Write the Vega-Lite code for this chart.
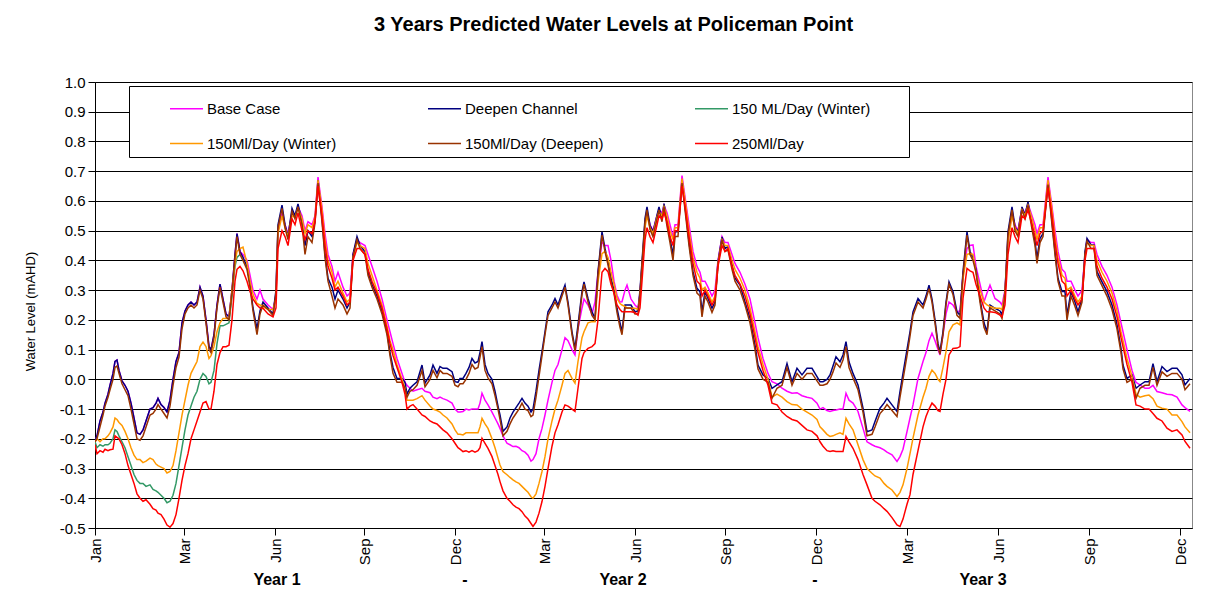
{
"$schema":"https://vega.github.io/schema/vega-lite/v6.json",
"width":1097,"height":446,
"autosize":{"type":"none"},
"padding":{"left":95,"top":82,"right":13,"bottom":70},
"background":"white",
"title":{"text":"3 Years Predicted Water Levels at Policeman Point","fontSize":20,"fontWeight":"bold","font":"Liberation Sans","anchor":"middle","dx":-30,"offset":40,"color":"black"},
"config":{"view":{"stroke":"#888888","strokeWidth":1},"font":"Liberation Sans"},
"datasets":{"w":[
{"d":0,"a":-0.21,"b":-0.21,"c":-0.21,"e":-0.21,"f":-0.21,"g":-0.22},
{"d":2,"a":-0.19,"b":-0.19,"c":-0.23,"e":-0.2,"f":-0.2,"g":-0.25},
{"d":5,"a":-0.14,"b":-0.14,"c":-0.22,"e":-0.21,"f":-0.16,"g":-0.24},
{"d":8,"a":-0.11,"b":-0.11,"c":-0.225,"e":-0.2,"f":-0.12,"g":-0.245},
{"d":10,"a":-0.08,"b":-0.08,"c":-0.22,"e":-0.2,"f":-0.09,"g":-0.235},
{"d":13,"a":-0.05,"b":-0.05,"c":-0.22,"e":-0.19,"f":-0.06,"g":-0.24},
{"d":15,"a":-0.02,"b":-0.02,"c":-0.215,"e":-0.18,"f":-0.035,"g":-0.237},
{"d":18,"a":0.02,"b":0.02,"c":-0.2,"e":-0.16,"f":0,"g":-0.235},
{"d":20,"a":0.06,"b":0.06,"c":-0.17,"e":-0.13,"f":0.04,"g":-0.19},
{"d":22,"a":0.065,"b":0.065,"c":-0.175,"e":-0.135,"f":0.045,"g":-0.195},
{"d":24,"a":0.03,"b":0.03,"c":-0.19,"e":-0.145,"f":0.02,"g":-0.2},
{"d":27,"a":-0.005,"b":-0.005,"c":-0.21,"e":-0.155,"f":-0.015,"g":-0.22},
{"d":30,"a":-0.02,"b":-0.02,"c":-0.23,"e":-0.175,"f":-0.035,"g":-0.25},
{"d":33,"a":-0.04,"b":-0.04,"c":-0.26,"e":-0.2,"f":-0.055,"g":-0.29},
{"d":36,"a":-0.08,"b":-0.08,"c":-0.29,"e":-0.23,"f":-0.1,"g":-0.32},
{"d":39,"a":-0.13,"b":-0.13,"c":-0.32,"e":-0.255,"f":-0.15,"g":-0.35},
{"d":42,"a":-0.18,"b":-0.18,"c":-0.34,"e":-0.27,"f":-0.2,"g":-0.385},
{"d":45,"a":-0.185,"b":-0.185,"c":-0.35,"e":-0.27,"f":-0.205,"g":-0.4},
{"d":48,"a":-0.17,"b":-0.17,"c":-0.35,"e":-0.28,"f":-0.19,"g":-0.41},
{"d":51,"a":-0.14,"b":-0.14,"c":-0.36,"e":-0.275,"f":-0.16,"g":-0.405},
{"d":55,"a":-0.1,"b":-0.1,"c":-0.355,"e":-0.265,"f":-0.12,"g":-0.42},
{"d":58,"a":-0.095,"b":-0.095,"c":-0.37,"e":-0.27,"f":-0.115,"g":-0.435},
{"d":61,"a":-0.08,"b":-0.08,"c":-0.375,"e":-0.285,"f":-0.1,"g":-0.44},
{"d":63,"a":-0.064,"b":-0.064,"c":-0.38,"e":-0.29,"f":-0.085,"g":-0.45},
{"d":66,"a":-0.085,"b":-0.085,"c":-0.39,"e":-0.295,"f":-0.1,"g":-0.455},
{"d":69,"a":-0.095,"b":-0.095,"c":-0.4,"e":-0.3,"f":-0.115,"g":-0.47},
{"d":72,"a":-0.11,"b":-0.11,"c":-0.415,"e":-0.315,"f":-0.13,"g":-0.49},
{"d":75,"a":-0.07,"b":-0.07,"c":-0.41,"e":-0.31,"f":-0.09,"g":-0.497},
{"d":78,"a":0,"b":0,"c":-0.39,"e":-0.29,"f":-0.02,"g":-0.485},
{"d":81,"a":0.06,"b":0.06,"c":-0.35,"e":-0.24,"f":0.04,"g":-0.455},
{"d":84,"a":0.09,"b":0.09,"c":-0.29,"e":-0.18,"f":0.075,"g":-0.4},
{"d":87,"a":0.19,"b":0.19,"c":-0.23,"e":-0.12,"f":0.17,"g":-0.34},
{"d":90,"a":0.23,"b":0.23,"c":-0.17,"e":-0.07,"f":0.22,"g":-0.29},
{"d":93,"a":0.25,"b":0.25,"c":-0.12,"e":-0.02,"f":0.24,"g":-0.25},
{"d":96,"a":0.26,"b":0.26,"c":-0.09,"e":0.02,"f":0.25,"g":-0.2},
{"d":99,"a":0.25,"b":0.25,"c":-0.06,"e":0.04,"f":0.24,"g":-0.17},
{"d":102,"a":0.26,"b":0.26,"c":-0.04,"e":0.06,"f":0.25,"g":-0.14},
{"d":105,"a":0.31,"b":0.31,"c":0,"e":0.11,"f":0.3,"g":-0.11},
{"d":108,"a":0.28,"b":0.28,"c":0.02,"e":0.125,"f":0.27,"g":-0.08},
{"d":111,"a":0.2,"b":0.2,"c":0.01,"e":0.11,"f":0.19,"g":-0.075},
{"d":114,"a":0.11,"b":0.11,"c":-0.015,"e":0.07,"f":0.1,"g":-0.1},
{"d":116,"a":0.1,"b":0.1,"c":-0.01,"e":0.08,"f":0.09,"g":-0.1},
{"d":119,"a":0.15,"b":0.15,"c":0.03,"e":0.11,"f":0.14,"g":-0.04},
{"d":122,"a":0.25,"b":0.25,"c":0.12,"e":0.16,"f":0.24,"g":0.05},
{"d":125,"a":0.32,"b":0.32,"c":0.18,"e":0.19,"f":0.31,"g":0.09},
{"d":128,"a":0.27,"b":0.27,"c":0.18,"e":0.205,"f":0.26,"g":0.11},
{"d":131,"a":0.22,"b":0.22,"c":0.185,"e":0.205,"f":0.21,"g":0.11},
{"d":134,"a":0.21,"b":0.21,"c":0.19,"e":0.205,"f":0.2,"g":0.115},
{"d":137,"a":0.3,"b":0.3,"c":0.28,"e":0.3,"f":0.29,"g":0.2},
{"d":140,"a":0.42,"b":0.42,"c":0.38,"e":0.39,"f":0.41,"g":0.33},
{"d":142,"a":0.49,"b":0.49,"c":0.41,"e":0.43,"f":0.48,"g":0.37},
{"d":145,"a":0.43,"b":0.43,"c":0.42,"e":0.44,"f":0.42,"g":0.38},
{"d":148,"a":0.42,"b":0.41,"e":0.445,"f":0.4,"g":0.365},
{"d":152,"a":0.4,"b":0.38,"e":0.39,"f":0.37,"g":0.33},
{"d":155,"a":0.35,"b":0.32,"e":0.33,"f":0.31,"g":0.295},
{"d":158,"a":0.3,"b":0.24,"e":0.285,"f":0.23,"g":0.27},
{"d":162,"a":0.27,"b":0.17,"e":0.255,"f":0.15,"g":0.25},
{"d":165,"a":0.3,"b":0.23,"e":0.25,"f":0.22,"g":0.24},
{"d":168,"a":0.27,"b":0.26,"e":0.245,"f":0.25,"g":0.239},
{"d":173,"a":0.25,"b":0.24,"e":0.235,"f":0.235,"g":0.22},
{"d":178,"a":0.235,"b":0.22,"e":0.235,"f":0.215,"g":0.21},
{"d":181,"a":0.28,"b":0.3,"e":0.27,"f":0.29,"g":0.24},
{"d":183,"a":0.5,"b":0.52,"e":0.49,"f":0.51,"g":0.44},
{"d":187,"a":0.56,"b":0.586,"e":0.55,"f":0.575,"g":0.5},
{"d":190,"a":0.52,"b":0.52,"e":0.51,"f":0.51,"g":0.48},
{"d":193,"a":0.49,"b":0.48,"e":0.48,"f":0.47,"g":0.45},
{"d":197,"a":0.56,"b":0.575,"e":0.55,"f":0.565,"g":0.54},
{"d":200,"a":0.55,"b":0.55,"e":0.545,"f":0.54,"g":0.52},
{"d":203,"a":0.58,"b":0.59,"e":0.575,"f":0.58,"g":0.56},
{"d":207,"a":0.55,"b":0.53,"e":0.54,"f":0.52,"g":0.5},
{"d":210,"a":0.5,"b":0.45,"e":0.49,"f":0.42,"g":0.47},
{"d":213,"a":0.53,"b":0.5,"e":0.52,"f":0.48,"g":0.5},
{"d":217,"a":0.52,"b":0.48,"e":0.51,"f":0.46,"g":0.49},
{"d":220,"a":0.55,"b":0.535,"e":0.545,"f":0.525,"g":0.53},
{"d":223,"a":0.68,"b":0.67,"e":0.67,"f":0.66,"g":0.65},
{"d":227,"a":0.58,"b":0.54,"e":0.57,"f":0.53,"g":0.55},
{"d":230,"a":0.49,"b":0.42,"e":0.47,"f":0.41,"g":0.45},
{"d":233,"a":0.42,"b":0.34,"e":0.4,"f":0.33,"g":0.38},
{"d":237,"a":0.38,"b":0.31,"e":0.36,"f":0.28,"g":0.34},
{"d":240,"a":0.33,"b":0.27,"e":0.31,"f":0.24,"g":0.3},
{"d":243,"a":0.36,"b":0.3,"e":0.33,"f":0.27,"g":0.31},
{"d":248,"a":0.31,"b":0.27,"e":0.29,"f":0.25,"g":0.28},
{"d":252,"a":0.28,"b":0.24,"e":0.26,"f":0.22,"g":0.25},
{"d":255,"a":0.29,"b":0.26,"e":0.27,"f":0.24,"g":0.26},
{"d":258,"a":0.42,"b":0.42,"e":0.41,"f":0.41,"g":0.4},
{"d":262,"a":0.47,"b":0.48,"e":0.46,"f":0.47,"g":0.44},
{"d":265,"a":0.46,"b":0.45,"e":0.45,"f":0.44,"g":0.44},
{"d":270,"a":0.45,"b":0.43,"e":0.44,"f":0.42,"g":0.42},
{"d":273,"a":0.42,"b":0.36,"e":0.39,"f":0.35,"g":0.37},
{"d":277,"a":0.38,"b":0.32,"e":0.35,"f":0.31,"g":0.33},
{"d":282,"a":0.33,"b":0.28,"e":0.3,"f":0.27,"g":0.29},
{"d":287,"a":0.27,"b":0.23,"e":0.25,"f":0.22,"g":0.24},
{"d":292,"a":0.2,"b":0.16,"e":0.18,"f":0.15,"g":0.17},
{"d":295,"a":0.16,"b":0.09,"e":0.13,"f":0.08,"g":0.12},
{"d":298,"a":0.12,"b":0.04,"e":0.1,"f":0.02,"g":0.08},
{"d":302,"a":0.07,"b":0.003,"e":0.05,"f":-0.01,"g":0.04},
{"d":307,"a":0.02,"b":0.003,"e":0,"f":-0.01,"g":-0.01},
{"d":310,"a":-0.01,"b":-0.01,"e":-0.03,"f":-0.03,"g":-0.05},
{"d":312,"a":-0.02,"b":-0.05,"e":-0.07,"f":-0.06,"g":-0.1},
{"d":315,"a":-0.03,"b":-0.03,"e":-0.07,"f":-0.04,"g":-0.09},
{"d":318,"a":-0.04,"b":-0.02,"e":-0.07,"f":-0.035,"g":-0.085},
{"d":322,"a":-0.035,"b":-0.008,"e":-0.065,"f":-0.02,"g":-0.1},
{"d":327,"a":-0.03,"b":0.048,"e":-0.055,"f":0.03,"g":-0.12},
{"d":330,"a":-0.04,"b":-0.013,"e":-0.07,"f":-0.025,"g":-0.125},
{"d":335,"a":-0.045,"b":0.015,"e":-0.09,"f":0,"g":-0.14},
{"d":338,"a":-0.06,"b":0.048,"e":-0.1,"f":0.03,"g":-0.145},
{"d":342,"a":-0.065,"b":0.02,"e":-0.105,"f":0.005,"g":-0.15},
{"d":345,"a":-0.06,"b":0.043,"e":-0.11,"f":0.03,"g":-0.16},
{"d":348,"a":-0.065,"b":0.037,"e":-0.12,"f":0.02,"g":-0.17},
{"d":352,"a":-0.07,"b":0.037,"e":-0.13,"f":0.02,"g":-0.18},
{"d":357,"a":-0.08,"b":0.026,"e":-0.15,"f":0.01,"g":-0.2},
{"d":360,"a":-0.1,"b":-0.008,"e":-0.17,"f":-0.02,"g":-0.215},
{"d":363,"a":-0.11,"b":-0.01,"e":-0.185,"f":-0.025,"g":-0.23},
{"d":365,"a":-0.11,"b":0.003,"e":-0.185,"f":-0.015,"g":-0.235},
{"d":368,"a":-0.108,"b":0.003,"e":-0.187,"f":-0.015,"g":-0.243},
{"d":371,"a":-0.1,"b":0.02,"e":-0.18,"f":0,"g":-0.24},
{"d":374,"a":-0.103,"b":0.04,"e":-0.18,"f":0.02,"g":-0.245},
{"d":377,"a":-0.1,"b":0.07,"e":-0.18,"f":0.05,"g":-0.24},
{"d":380,"a":-0.1,"b":0.055,"e":-0.18,"f":0.035,"g":-0.245},
{"d":383,"a":-0.1,"b":0.06,"e":-0.18,"f":0.04,"g":-0.24},
{"d":385,"a":-0.08,"b":0.09,"e":-0.16,"f":0.075,"g":-0.23},
{"d":387,"a":-0.047,"b":0.127,"e":-0.131,"f":0.11,"g":-0.198},
{"d":390,"a":-0.07,"b":0.05,"e":-0.15,"f":0.03,"g":-0.215},
{"d":393,"a":-0.086,"b":0.02,"e":-0.165,"f":0.005,"g":-0.232},
{"d":397,"a":-0.11,"b":0,"e":-0.2,"f":-0.015,"g":-0.26},
{"d":400,"a":-0.13,"b":-0.04,"e":-0.23,"f":-0.055,"g":-0.29},
{"d":403,"a":-0.15,"b":-0.09,"e":-0.265,"f":-0.1,"g":-0.32},
{"d":405,"a":-0.165,"b":-0.12,"e":-0.288,"f":-0.135,"g":-0.344},
{"d":408,"a":-0.19,"b":-0.175,"e":-0.31,"f":-0.19,"g":-0.375},
{"d":412,"a":-0.215,"b":-0.16,"e":-0.321,"f":-0.175,"g":-0.4},
{"d":415,"a":-0.22,"b":-0.13,"e":-0.33,"f":-0.15,"g":-0.41},
{"d":418,"a":-0.226,"b":-0.11,"e":-0.338,"f":-0.13,"g":-0.422},
{"d":421,"a":-0.225,"b":-0.095,"e":-0.345,"f":-0.115,"g":-0.43},
{"d":424,"a":-0.23,"b":-0.08,"e":-0.35,"f":-0.1,"g":-0.435},
{"d":427,"a":-0.24,"b":-0.064,"e":-0.36,"f":-0.08,"g":-0.445},
{"d":430,"a":-0.245,"b":-0.08,"e":-0.37,"f":-0.1,"g":-0.46},
{"d":433,"a":-0.255,"b":-0.09,"e":-0.38,"f":-0.105,"g":-0.47},
{"d":436,"a":-0.275,"b":-0.11,"e":-0.395,"f":-0.125,"g":-0.485},
{"d":438,"a":-0.27,"b":-0.1,"e":-0.4,"f":-0.12,"g":-0.495},
{"d":441,"a":-0.25,"b":-0.04,"e":-0.385,"f":-0.06,"g":-0.48},
{"d":444,"a":-0.2,"b":0.03,"e":-0.35,"f":0.01,"g":-0.45},
{"d":447,"a":-0.165,"b":0.093,"e":-0.31,"f":0.08,"g":-0.411},
{"d":450,"a":-0.12,"b":0.16,"e":-0.26,"f":0.15,"g":-0.36},
{"d":453,"a":-0.07,"b":0.227,"e":-0.2,"f":0.215,"g":-0.3},
{"d":457,"a":-0.01,"b":0.25,"e":-0.14,"f":0.24,"g":-0.225},
{"d":460,"a":0.03,"b":0.272,"e":-0.1,"f":0.26,"g":-0.18},
{"d":463,"a":0.05,"b":0.25,"e":-0.07,"f":0.24,"g":-0.153},
{"d":467,"a":0.1,"b":0.29,"e":-0.02,"f":0.28,"g":-0.11},
{"d":470,"a":0.14,"b":0.317,"e":0.02,"f":0.31,"g":-0.086},
{"d":473,"a":0.13,"b":0.26,"e":0.03,"f":0.25,"g":-0.09},
{"d":477,"a":0.1,"b":0.16,"e":0.003,"f":0.15,"g":-0.1},
{"d":480,"a":0.082,"b":0.104,"e":-0.013,"f":0.095,"g":-0.108},
{"d":483,"a":0.17,"b":0.183,"e":0.06,"f":0.17,"g":-0.03},
{"d":487,"a":0.24,"b":0.295,"e":0.14,"f":0.285,"g":0.07},
{"d":489,"a":0.27,"b":0.328,"e":0.16,"f":0.32,"g":0.09},
{"d":493,"a":0.25,"b":0.272,"e":0.19,"f":0.26,"g":0.104},
{"d":497,"a":0.22,"b":0.227,"e":0.194,"f":0.215,"g":0.11},
{"d":500,"a":0.26,"b":0.205,"e":0.194,"f":0.2,"g":0.12},
{"d":503,"a":0.36,"b":0.362,"e":0.328,"f":0.35,"g":0.2},
{"d":507,"a":0.462,"b":0.496,"e":0.423,"f":0.485,"g":0.36},
{"d":510,"a":0.45,"b":0.44,"e":0.43,"f":0.43,"g":0.373},
{"d":513,"a":0.45,"b":0.395,"e":0.41,"f":0.385,"g":0.362},
{"d":516,"a":0.4,"b":0.34,"e":0.36,"f":0.33,"g":0.32},
{"d":519,"a":0.33,"b":0.3,"e":0.32,"f":0.29,"g":0.29},
{"d":522,"a":0.283,"b":0.239,"e":0.272,"f":0.225,"g":0.25},
{"d":525,"a":0.26,"b":0.19,"e":0.255,"f":0.175,"g":0.235},
{"d":527,"a":0.261,"b":0.16,"e":0.25,"f":0.15,"g":0.227},
{"d":530,"a":0.3,"b":0.25,"e":0.245,"f":0.24,"g":0.227},
{"d":532,"a":0.317,"b":0.25,"e":0.24,"f":0.24,"g":0.227},
{"d":536,"a":0.27,"b":0.25,"e":0.239,"f":0.24,"g":0.227},
{"d":540,"a":0.25,"b":0.227,"e":0.239,"f":0.22,"g":0.225},
{"d":543,"a":0.24,"b":0.23,"e":0.235,"f":0.22,"g":0.216},
{"d":545,"a":0.29,"b":0.3,"e":0.28,"f":0.29,"g":0.24},
{"d":547,"a":0.38,"b":0.395,"e":0.37,"f":0.385,"g":0.33},
{"d":550,"a":0.52,"b":0.541,"e":0.51,"f":0.53,"g":0.47},
{"d":552,"a":0.56,"b":0.58,"e":0.55,"f":0.57,"g":0.51},
{"d":555,"a":0.52,"b":0.518,"e":0.51,"f":0.505,"g":0.48},
{"d":558,"a":0.5,"b":0.496,"e":0.49,"f":0.48,"g":0.46},
{"d":562,"a":0.55,"b":0.552,"e":0.545,"f":0.54,"g":0.52},
{"d":564,"a":0.57,"b":0.58,"e":0.565,"f":0.57,"g":0.55},
{"d":567,"a":0.56,"b":0.541,"e":0.55,"f":0.53,"g":0.54},
{"d":569,"a":0.585,"b":0.591,"e":0.58,"f":0.58,"g":0.56},
{"d":572,"a":0.56,"b":0.53,"e":0.55,"f":0.515,"g":0.53},
{"d":575,"a":0.52,"b":0.474,"e":0.5,"f":0.46,"g":0.48},
{"d":578,"a":0.48,"b":0.418,"e":0.47,"f":0.4,"g":0.45},
{"d":580,"a":0.52,"b":0.496,"e":0.51,"f":0.48,"g":0.5},
{"d":583,"a":0.52,"b":0.496,"e":0.51,"f":0.48,"g":0.5},
{"d":587,"a":0.685,"b":0.67,"e":0.675,"f":0.66,"g":0.65},
{"d":591,"a":0.59,"b":0.552,"e":0.58,"f":0.54,"g":0.56},
{"d":594,"a":0.52,"b":0.463,"e":0.5,"f":0.45,"g":0.48},
{"d":598,"a":0.43,"b":0.362,"e":0.41,"f":0.35,"g":0.39},
{"d":602,"a":0.38,"b":0.306,"e":0.36,"f":0.29,"g":0.33},
{"d":605,"a":0.36,"b":0.295,"e":0.34,"f":0.28,"g":0.32},
{"d":607,"a":0.33,"b":0.227,"e":0.3,"f":0.21,"g":0.28},
{"d":610,"a":0.33,"b":0.295,"e":0.31,"f":0.28,"g":0.3},
{"d":613,"a":0.31,"b":0.272,"e":0.29,"f":0.26,"g":0.28},
{"d":617,"a":0.28,"b":0.239,"e":0.26,"f":0.225,"g":0.25},
{"d":620,"a":0.3,"b":0.26,"e":0.28,"f":0.25,"g":0.27},
{"d":623,"a":0.4,"b":0.395,"e":0.39,"f":0.385,"g":0.38},
{"d":627,"a":0.48,"b":0.479,"e":0.47,"f":0.47,"g":0.45},
{"d":630,"a":0.46,"b":0.44,"e":0.45,"f":0.43,"g":0.43},
{"d":633,"a":0.46,"b":0.446,"e":0.45,"f":0.435,"g":0.44},
{"d":637,"a":0.42,"b":0.384,"e":0.4,"f":0.37,"g":0.38},
{"d":640,"a":0.39,"b":0.34,"e":0.37,"f":0.33,"g":0.35},
{"d":645,"a":0.36,"b":0.317,"e":0.34,"f":0.3,"g":0.32},
{"d":650,"a":0.32,"b":0.26,"e":0.3,"f":0.25,"g":0.28},
{"d":655,"a":0.27,"b":0.205,"e":0.24,"f":0.19,"g":0.22},
{"d":660,"a":0.19,"b":0.115,"e":0.16,"f":0.1,"g":0.14},
{"d":663,"a":0.14,"b":0.048,"e":0.11,"f":0.035,"g":0.09},
{"d":668,"a":0.07,"b":0.015,"e":0.05,"f":0,"g":0.03},
{"d":673,"a":0.02,"b":0.003,"e":0,"f":-0.01,"g":-0.02},
{"d":677,"a":-0.008,"b":-0.03,"e":-0.06,"f":-0.064,"g":-0.08},
{"d":682,"a":-0.015,"b":-0.019,"e":-0.05,"f":-0.03,"g":-0.086},
{"d":687,"a":-0.03,"b":-0.008,"e":-0.06,"f":-0.02,"g":-0.11},
{"d":692,"a":-0.04,"b":0.053,"e":-0.075,"f":0.04,"g":-0.125},
{"d":697,"a":-0.047,"b":-0.008,"e":-0.085,"f":-0.02,"g":-0.135},
{"d":702,"a":-0.045,"b":0.037,"e":-0.086,"f":0.02,"g":-0.14},
{"d":707,"a":-0.055,"b":0.015,"e":-0.1,"f":0,"g":-0.155},
{"d":712,"a":-0.06,"b":0.037,"e":-0.11,"f":0.02,"g":-0.17},
{"d":717,"a":-0.064,"b":0.037,"e":-0.12,"f":0.02,"g":-0.175},
{"d":722,"a":-0.08,"b":0.009,"e":-0.135,"f":-0.005,"g":-0.19},
{"d":725,"a":-0.1,"b":-0.008,"e":-0.16,"f":-0.02,"g":-0.21},
{"d":728,"a":-0.095,"b":-0.008,"e":-0.17,"f":-0.02,"g":-0.225},
{"d":732,"a":-0.105,"b":0,"e":-0.185,"f":-0.015,"g":-0.24},
{"d":735,"a":-0.108,"b":0.015,"e":-0.192,"f":0,"g":-0.243},
{"d":738,"a":-0.105,"b":0.045,"e":-0.19,"f":0.025,"g":-0.24},
{"d":741,"a":-0.103,"b":0.076,"e":-0.185,"f":0.055,"g":-0.243},
{"d":745,"a":-0.1,"b":0.059,"e":-0.18,"f":0.04,"g":-0.243},
{"d":748,"a":-0.1,"b":0.082,"e":-0.185,"f":0.065,"g":-0.243},
{"d":751,"a":-0.047,"b":0.127,"e":-0.131,"f":0.11,"g":-0.192},
{"d":754,"a":-0.07,"b":0.059,"e":-0.15,"f":0.04,"g":-0.21},
{"d":758,"a":-0.08,"b":0.02,"e":-0.17,"f":0.005,"g":-0.232},
{"d":763,"a":-0.108,"b":-0.019,"e":-0.22,"f":-0.035,"g":-0.27},
{"d":768,"a":-0.165,"b":-0.097,"e":-0.27,"f":-0.11,"g":-0.32},
{"d":772,"a":-0.21,"b":-0.176,"e":-0.3,"f":-0.19,"g":-0.355},
{"d":777,"a":-0.22,"b":-0.17,"e":-0.316,"f":-0.185,"g":-0.4},
{"d":780,"a":-0.225,"b":-0.142,"e":-0.325,"f":-0.16,"g":-0.41},
{"d":785,"a":-0.23,"b":-0.097,"e":-0.332,"f":-0.115,"g":-0.422},
{"d":789,"a":-0.237,"b":-0.08,"e":-0.35,"f":-0.1,"g":-0.435},
{"d":792,"a":-0.245,"b":-0.064,"e":-0.36,"f":-0.085,"g":-0.444},
{"d":797,"a":-0.254,"b":-0.086,"e":-0.372,"f":-0.105,"g":-0.465},
{"d":802,"a":-0.276,"b":-0.108,"e":-0.394,"f":-0.125,"g":-0.49},
{"d":805,"a":-0.26,"b":-0.041,"e":-0.38,"f":-0.06,"g":-0.495},
{"d":808,"a":-0.235,"b":0.02,"e":-0.355,"f":0,"g":-0.47},
{"d":812,"a":-0.176,"b":0.1,"e":-0.3,"f":0.08,"g":-0.42},
{"d":815,"a":-0.13,"b":0.16,"e":-0.25,"f":0.145,"g":-0.388},
{"d":818,"a":-0.086,"b":0.227,"e":-0.198,"f":0.215,"g":-0.32},
{"d":823,"a":0.003,"b":0.272,"e":-0.12,"f":0.26,"g":-0.24},
{"d":828,"a":0.06,"b":0.25,"e":-0.06,"f":0.24,"g":-0.16},
{"d":831,"a":0.09,"b":0.28,"e":-0.03,"f":0.27,"g":-0.125},
{"d":834,"a":0.13,"b":0.317,"e":0.01,"f":0.305,"g":-0.1},
{"d":837,"a":0.155,"b":0.27,"e":0.031,"f":0.26,"g":-0.08},
{"d":840,"a":0.13,"b":0.2,"e":0.02,"f":0.19,"g":-0.09},
{"d":843,"a":0.1,"b":0.12,"e":0,"f":0.11,"g":-0.105},
{"d":845,"a":0.082,"b":0.093,"e":-0.008,"f":0.085,"g":-0.108},
{"d":848,"a":0.15,"b":0.16,"e":0.04,"f":0.15,"g":-0.05},
{"d":851,"a":0.22,"b":0.26,"e":0.093,"f":0.25,"g":0},
{"d":854,"a":0.26,"b":0.328,"e":0.16,"f":0.32,"g":0.082},
{"d":858,"a":0.25,"b":0.295,"e":0.183,"f":0.285,"g":0.104},
{"d":862,"a":0.227,"b":0.227,"e":0.19,"f":0.215,"g":0.105},
{"d":865,"a":0.23,"b":0.216,"e":0.183,"f":0.205,"g":0.11},
{"d":868,"a":0.35,"b":0.362,"e":0.339,"f":0.35,"g":0.272},
{"d":872,"a":0.44,"b":0.496,"e":0.42,"f":0.485,"g":0.373},
{"d":875,"a":0.45,"b":0.43,"e":0.423,"f":0.42,"g":0.365},
{"d":878,"a":0.452,"b":0.41,"e":0.42,"f":0.4,"g":0.36},
{"d":881,"a":0.38,"b":0.37,"e":0.36,"f":0.36,"g":0.32},
{"d":885,"a":0.32,"b":0.27,"e":0.3,"f":0.26,"g":0.28},
{"d":889,"a":0.261,"b":0.19,"e":0.26,"f":0.175,"g":0.24},
{"d":892,"a":0.29,"b":0.16,"e":0.25,"f":0.15,"g":0.227},
{"d":895,"a":0.317,"b":0.25,"e":0.245,"f":0.24,"g":0.227},
{"d":900,"a":0.272,"b":0.239,"e":0.239,"f":0.23,"g":0.225},
{"d":905,"a":0.26,"b":0.23,"e":0.239,"f":0.22,"g":0.216},
{"d":907,"a":0.25,"b":0.216,"e":0.235,"f":0.205,"g":0.21},
{"d":910,"a":0.3,"b":0.295,"e":0.29,"f":0.285,"g":0.25},
{"d":913,"a":0.47,"b":0.496,"e":0.46,"f":0.485,"g":0.42},
{"d":917,"a":0.56,"b":0.58,"e":0.55,"f":0.57,"g":0.51},
{"d":920,"a":0.52,"b":0.513,"e":0.51,"f":0.5,"g":0.48},
{"d":923,"a":0.5,"b":0.496,"e":0.49,"f":0.48,"g":0.46},
{"d":927,"a":0.575,"b":0.58,"e":0.57,"f":0.57,"g":0.55},
{"d":930,"a":0.56,"b":0.552,"e":0.55,"f":0.54,"g":0.54},
{"d":933,"a":0.59,"b":0.597,"e":0.585,"f":0.585,"g":0.57},
{"d":937,"a":0.55,"b":0.518,"e":0.54,"f":0.505,"g":0.52},
{"d":940,"a":0.52,"b":0.463,"e":0.5,"f":0.45,"g":0.48},
{"d":942,"a":0.49,"b":0.407,"e":0.47,"f":0.39,"g":0.45},
{"d":945,"a":0.52,"b":0.474,"e":0.51,"f":0.46,"g":0.49},
{"d":948,"a":0.52,"b":0.49,"e":0.51,"f":0.48,"g":0.5},
{"d":953,"a":0.68,"b":0.664,"e":0.67,"f":0.655,"g":0.645},
{"d":957,"a":0.58,"b":0.53,"e":0.57,"f":0.52,"g":0.55},
{"d":960,"a":0.5,"b":0.43,"e":0.48,"f":0.42,"g":0.46},
{"d":963,"a":0.43,"b":0.34,"e":0.41,"f":0.33,"g":0.39},
{"d":967,"a":0.37,"b":0.295,"e":0.35,"f":0.28,"g":0.33},
{"d":970,"a":0.36,"b":0.295,"e":0.34,"f":0.28,"g":0.32},
{"d":972,"a":0.33,"b":0.216,"e":0.3,"f":0.2,"g":0.28},
{"d":976,"a":0.33,"b":0.295,"e":0.31,"f":0.28,"g":0.3},
{"d":980,"a":0.3,"b":0.26,"e":0.28,"f":0.245,"g":0.27},
{"d":983,"a":0.28,"b":0.227,"e":0.26,"f":0.215,"g":0.25},
{"d":987,"a":0.3,"b":0.272,"e":0.28,"f":0.26,"g":0.27},
{"d":990,"a":0.42,"b":0.43,"e":0.41,"f":0.42,"g":0.4},
{"d":992,"a":0.47,"b":0.474,"e":0.46,"f":0.465,"g":0.44},
{"d":996,"a":0.46,"b":0.452,"e":0.45,"f":0.44,"g":0.44},
{"d":999,"a":0.46,"b":0.452,"e":0.45,"f":0.44,"g":0.44},
{"d":1002,"a":0.42,"b":0.362,"e":0.4,"f":0.35,"g":0.38},
{"d":1007,"a":0.38,"b":0.328,"e":0.36,"f":0.315,"g":0.34},
{"d":1012,"a":0.35,"b":0.295,"e":0.33,"f":0.28,"g":0.31},
{"d":1017,"a":0.31,"b":0.25,"e":0.29,"f":0.235,"g":0.27},
{"d":1022,"a":0.25,"b":0.183,"e":0.23,"f":0.17,"g":0.21},
{"d":1026,"a":0.19,"b":0.104,"e":0.16,"f":0.09,"g":0.14},
{"d":1028,"a":0.16,"b":0.048,"e":0.13,"f":0.035,"g":0.11},
{"d":1032,"a":0.1,"b":0.003,"e":0.07,"f":-0.01,"g":0.05},
{"d":1037,"a":0.03,"b":0.015,"e":0.01,"f":0,"g":-0.01},
{"d":1041,"a":-0.01,"b":-0.03,"e":-0.05,"f":-0.064,"g":-0.086},
{"d":1045,"a":-0.019,"b":-0.019,"e":-0.06,"f":-0.03,"g":-0.09},
{"d":1050,"a":-0.03,"b":-0.008,"e":-0.055,"f":-0.02,"g":-0.1},
{"d":1054,"a":-0.03,"b":-0.008,"e":-0.053,"f":-0.02,"g":-0.1},
{"d":1058,"a":-0.02,"b":0.053,"e":-0.065,"f":0.04,"g":-0.115},
{"d":1062,"a":-0.041,"b":-0.008,"e":-0.09,"f":-0.02,"g":-0.131},
{"d":1067,"a":-0.045,"b":0.043,"e":-0.097,"f":0.025,"g":-0.14},
{"d":1072,"a":-0.05,"b":0.026,"e":-0.1,"f":0.01,"g":-0.164},
{"d":1077,"a":-0.052,"b":0.037,"e":-0.12,"f":0.02,"g":-0.175},
{"d":1082,"a":-0.06,"b":0.037,"e":-0.12,"f":0.02,"g":-0.17},
{"d":1087,"a":-0.086,"b":0.015,"e":-0.142,"f":0,"g":-0.187},
{"d":1090,"a":-0.095,"b":-0.019,"e":-0.16,"f":-0.035,"g":-0.209},
{"d":1095,"a":-0.108,"b":0.003,"e":-0.18,"f":-0.015,"g":-0.232}
]},
"layer":[
{"data":{"name":"w"},
 "transform":[{"fold":["a","b","c","e","f","g"],"as":["k","v"]},{"filter":"isValid(datum.v)"}],
 "mark":{"type":"line","strokeWidth":1.5,"clip":true},
 "encoding":{
  "x":{"field":"d","type":"quantitative","scale":{"domain":[0,1097],"nice":false,"zero":false},
   "axis":{"values":[0,89,180,269,360,449,540,630,721,812,903,994,1085],"tickCount":30,
    "labelExpr":"['Jan','Mar','Jun','Sep','Dec','Mar','Jun','Sep','Dec','Mar','Jun','Sep','Dec'][indexof([0,89,180,269,360,449,540,630,721,812,903,994,1085], datum.value)]",
    "labelAngle":270,"labelAlign":"right","labelBaseline":"middle","labelFontSize":15,"labelColor":"black","labelPadding":3,"labelOverlap":false,"labelFlush":false,
    "tickSize":7,"tickColor":"black","domainColor":"black","grid":false,"title":null}},
  "y":{"field":"v","type":"quantitative","scale":{"domain":[-0.5,1.0],"nice":false,"zero":false},
   "axis":{"values":[-0.5,-0.4,-0.3,-0.2,-0.1,0,0.1,0.2,0.3,0.4,0.5,0.6,0.7,0.8,0.9,1.0],"tickCount":30,
    "labelExpr":"replace(format(datum.value, '.1f'), '\u2212', '-')","labelOverlap":false,"labelFlush":false,
    "grid":true,"gridColor":"black","gridWidth":1,"gridOpacity":1,"domainColor":"black","tickColor":"black","tickSize":7,
    "labelFontSize":15,"labelColor":"black","labelPadding":3,
    "title":"Water Level (mAHD)","titleFontSize":13,"titleFontWeight":"normal","titleColor":"black",
    "titleX":-65,"titleY":229,"titleAlign":"center","titleBaseline":"middle","titleAngle":270}},
  "color":{"field":"k","type":"nominal",
   "scale":{"domain":["a","b","c","e","f","g"],"range":["#FF00FF","#000080","#339966","#FF9900","#993300","#FF0000"]},
   "legend":{"orient":"none","legendX":34,"legendY":4,"columns":3,"direction":"horizontal","title":null,
    "symbolType":"stroke","symbolSize":1089,"symbolStrokeWidth":1.5,"symbolOffset":35,"labelOffset":3,"labelLimit":400,
    "labelFontSize":15,"labelColor":"black","labelFont":"Liberation Sans",
    "strokeColor":"black","fillColor":"white","padding":5,"columnPadding":55,"rowPadding":9,
    "labelExpr":"datum.label == 'a' ? 'Base Case' : datum.label == 'b' ? 'Deepen Channel' : datum.label == 'c' ? '150 ML/Day (Winter)\u2800\u2800\u2800' : datum.label == 'e' ? '150Ml/Day (Winter)' : datum.label == 'f' ? '150Ml/Day (Deepen)' : '250Ml/Day'"}}
 }},
{"data":{"values":[{"p":182,"t":"Year 1"},{"p":370,"t":"-"},{"p":528,"t":"Year 2"},{"p":720,"t":"-"},{"p":888,"t":"Year 3"}]},
 "mark":{"type":"text","fontSize":16,"fontWeight":"bold","font":"Liberation Sans","color":"black"},
 "encoding":{"x":{"field":"p","type":"quantitative"},"y":{"datum":-0.675},"text":{"field":"t"}}}
]
}
